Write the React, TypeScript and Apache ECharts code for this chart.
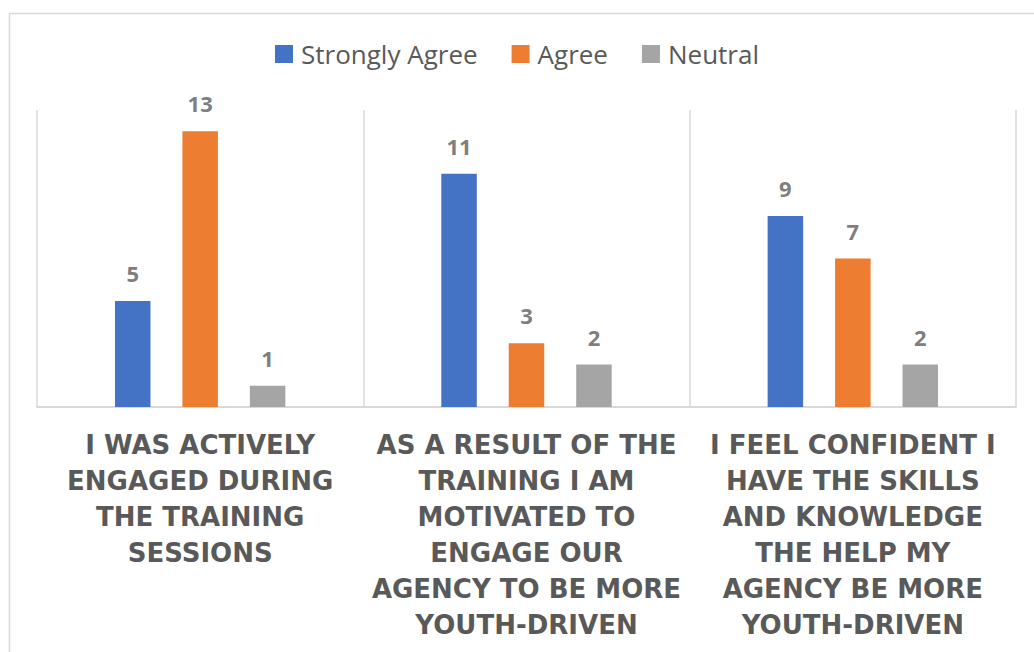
import React, { useEffect, useRef } from "react";
import * as echarts from "echarts";

const categories = [
  "I WAS ACTIVELY\nENGAGED DURING\nTHE TRAINING\nSESSIONS",
  "AS A RESULT OF THE\nTRAINING I AM\nMOTIVATED TO\nENGAGE OUR\nAGENCY TO BE MORE\nYOUTH-DRIVEN",
  "I FEEL CONFIDENT I\nHAVE THE SKILLS\nAND KNOWLEDGE\nTHE HELP MY\nAGENCY BE MORE\nYOUTH-DRIVEN",
];
const seriesNames = ["Strongly Agree", "Agree", "Neutral"];
const stronglyAgree = [5, 11, 9];
const agree = [13, 3, 7];
const neutral = [1, 2, 2];
const colors = ["#4472c4", "#ed7d31", "#a5a5a5"];

export default function App() {
  const ref = useRef<HTMLDivElement>(null);
  useEffect(() => {
    if (!ref.current) return;
    const chart = echarts.init(ref.current, undefined, { renderer: "svg" });
    const values = [stronglyAgree, agree, neutral];
    chart.setOption({
      animation: false,
      backgroundColor: "#ffffff",
      graphic: [
        {
          type: "rect",
          left: 7,
          top: 11,
          silent: true,
          z: -10,
          shape: { width: 1100, height: 700 },
          style: { fill: "none", stroke: "#d9d9d9", lineWidth: 1.5 },
        },
      ],
      legend: {
        data: seriesNames,
        top: 36,
        left: "center",
        icon: "rect",
        itemWidth: 18,
        itemHeight: 18,
        itemGap: 34,
        textStyle: {
          fontFamily: "Open Sans",
          fontSize: 26,
          color: "#595959",
          padding: [0, 0, 0, 3],
        },
      },
      grid: { left: 37, right: 18, top: 110, bottom: 245, containLabel: false },
      xAxis: {
        type: "category",
        data: categories,
        axisLine: { show: true, lineStyle: { color: "#d9d9d9", width: 2 } },
        axisTick: { show: false },
        splitLine: { show: true, lineStyle: { color: "#d9d9d9", width: 1.5 } },
        axisLabel: {
          interval: 0,
          margin: 20,
          fontFamily: "DejaVu Sans",
          fontWeight: "bold",
          fontSize: 26,
          lineHeight: 36,
          color: "#595959",
          align: "center",
        },
      },
      yAxis: {
        type: "value",
        min: 0,
        max: 14,
        show: false,
        splitLine: { show: false },
      },
      series: seriesNames.map((name, i) => ({
        name,
        type: "bar",
        data: values[i],
        barWidth: 35.5,
        barGap: "90%",
        itemStyle: { color: colors[i] },
        label: {
          show: true,
          position: "top",
          distance: 17,
          fontFamily: "Open Sans",
          fontWeight: "bold",
          fontSize: 22,
          color: "#7f7f7f",
        },
      })),
    });
    return () => chart.dispose();
  }, []);
  return (
    <div
      ref={ref}
      style={{ position: "absolute", left: 0, top: 0, width: 1034, height: 652 }}
    />
  );
}
